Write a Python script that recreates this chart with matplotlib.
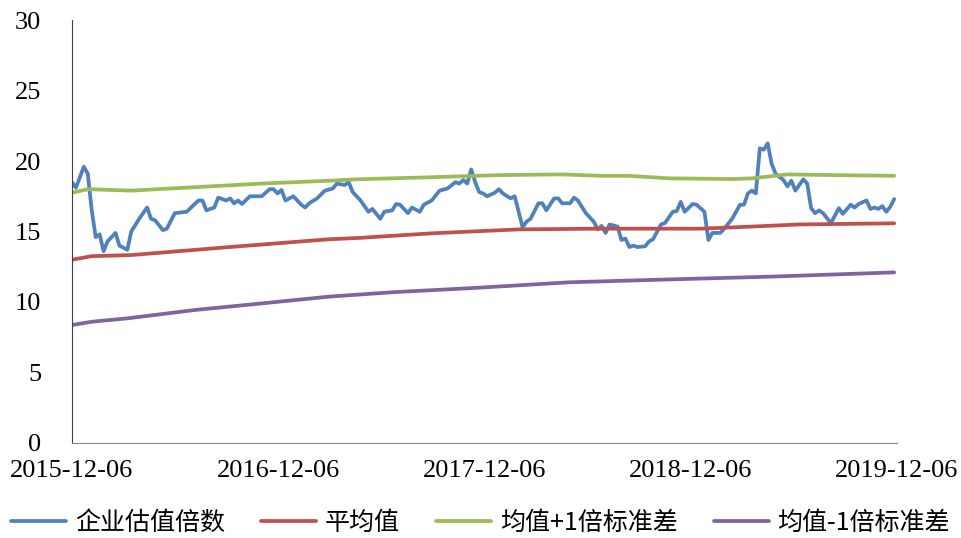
import matplotlib
matplotlib.use("Agg")
import matplotlib.pyplot as plt
import matplotlib.dates as mdates
import numpy as np
import pandas as pd

start = pd.Timestamp("2015-12-06")
end = pd.Timestamp("2019-12-06")

# weeks since 2015-12-06
pe_weeks = [0, 1, 3, 4, 5, 6, 7, 8, 9, 11, 12, 14, 15, 17, 19, 20, 21, 23, 24, 26,
            29, 32, 33, 34, 36, 37, 39, 40, 41, 42, 43, 45, 48, 50, 51, 52, 53, 54, 56, 58,
            59, 60, 62, 64, 66, 67, 69, 70, 71, 73, 75, 76, 78, 79, 81, 82, 83, 85, 86, 88,
            89, 91, 93, 95, 97, 98, 99, 100, 101, 102, 103, 104, 105, 107, 108, 109, 111, 112, 114, 115,
            116, 118, 119, 120, 122, 123, 124, 126, 127, 128, 130, 132, 133, 134, 135, 136, 138, 139, 140, 141,
            142, 143, 145, 146, 147, 149, 150, 152, 153, 154, 155, 157, 158, 160, 161, 162, 164, 165, 167, 169,
            170, 171, 172, 173, 174, 175, 176, 177, 178, 180, 181, 182, 183, 184, 185, 186, 187, 188, 189, 190,
            192, 194, 195, 197, 198, 199, 201, 202, 203, 204, 205, 206, 207, 208]
pe_values = [18.5, 18.1, 19.6, 19.1, 16.5, 14.6, 14.8, 13.6, 14.3, 14.9, 14.0, 13.7, 15.0, 15.9, 16.7, 15.9, 15.8, 15.1, 15.2, 16.3,
             16.4, 17.2, 17.2, 16.5, 16.7, 17.4, 17.2, 17.35, 17.0, 17.2, 16.95, 17.5, 17.5, 18.0, 18.0, 17.7, 17.95, 17.2, 17.5, 16.9,
             16.7, 17.0, 17.35, 17.9, 18.05, 18.4, 18.3, 18.5, 17.8, 17.2, 16.4, 16.6, 15.9, 16.4, 16.5, 16.95, 16.9, 16.3, 16.7, 16.4,
             16.9, 17.2, 17.9, 18.05, 18.5, 18.4, 18.65, 18.4, 19.4, 18.5, 17.8, 17.7, 17.5, 17.75, 18.0, 17.7, 17.35, 17.5, 15.3, 15.7,
             15.9, 17.0, 17.0, 16.5, 17.35, 17.35, 17.0, 17.0, 17.4, 17.2, 16.3, 15.7, 15.15, 15.4, 14.9, 15.5, 15.35, 14.4, 14.5, 13.9,
             14.0, 13.9, 13.95, 14.3, 14.45, 15.5, 15.6, 16.4, 16.45, 17.1, 16.4, 16.95, 16.9, 16.4, 14.4, 14.9, 14.9, 15.2, 15.9, 16.9,
             16.9, 17.7, 17.9, 17.7, 20.9, 20.8, 21.25, 19.8, 19.1, 18.65, 18.2, 18.6, 17.9, 18.3, 18.7, 18.4, 16.65, 16.3, 16.5, 16.3,
             15.6, 16.65, 16.25, 16.9, 16.7, 16.95, 17.2, 16.6, 16.7, 16.6, 16.8, 16.4, 16.75, 17.3]

mean_weeks = [0, 5, 15, 40, 65, 73, 91, 113, 133, 159, 172, 184, 208]
mean_values = [13.0, 13.25, 13.33, 13.9, 14.45, 14.55, 14.87, 15.15, 15.2, 15.2, 15.35, 15.5, 15.58]

upper_weeks = [0, 4, 15, 48, 65, 72, 91, 108, 124, 134, 141, 151, 167, 172, 181, 193, 208]
upper_values = [17.75, 18.0, 17.9, 18.4, 18.6, 18.7, 18.85, 19.0, 19.05, 18.95, 18.95, 18.77, 18.72, 18.77, 19.05, 19.0, 18.95]

lower_weeks = [0, 5, 14, 31, 48, 65, 81, 102, 126, 151, 177, 208]
lower_values = [8.37, 8.6, 8.84, 9.43, 9.9, 10.38, 10.69, 11.0, 11.4, 11.6, 11.8, 12.1]

labels = ["企业估值倍数", "平均值", "均值+1倍标准差", "均值-1倍标准差"]
colors = ["#4F81BD", "#C0504D", "#9BBB59", "#8064A2"]


def to_dates(weeks):
    return start + pd.to_timedelta(np.array(weeks) * 7, unit="D")


fig = plt.figure(figsize=(9.61, 5.38), dpi=100)
ax = fig.add_axes([0.0749, 0.1766, 0.8585, 0.7862])

series = [(pe_weeks, pe_values), (mean_weeks, mean_values),
          (upper_weeks, upper_values), (lower_weeks, lower_values)]
for (w, v), lab, c in zip(series, labels, colors):
    ax.plot(to_dates(w), v, color=c, lw=2.7, label=lab, solid_capstyle="round")

ax.set_xlim(start, end)
ax.set_ylim(0, 30)
ax.set_yticks(range(0, 31, 5))
ticks = [pd.Timestamp(f"{y}-12-06") for y in range(2015, 2020)]
ax.set_xticks(ticks)
ax.xaxis.set_major_formatter(mdates.DateFormatter("%Y-%m-%d"))

for s in ["top", "right"]:
    ax.spines[s].set_visible(False)
ax.spines["left"].set_color("#404040")
ax.spines["bottom"].set_color("#868686")
ax.tick_params(length=0)
ax.tick_params(axis="y", pad=22)
ax.tick_params(axis="x", pad=12)
for t in ax.get_xticklabels() + ax.get_yticklabels():
    t.set_fontfamily("Liberation Serif")
    t.set_fontsize(19)

fig.legend(loc="center", bbox_to_anchor=(0.5, 1 - 523 / 538), ncol=4, frameon=False,
           prop={"family": ["Noto Sans CJK SC", "DejaVu Sans"], "size": 18},
           handlelength=2.2, handletextpad=0.35, columnspacing=1.45,
           borderaxespad=0, borderpad=0)

fig.savefig("out.png", dpi=100)
